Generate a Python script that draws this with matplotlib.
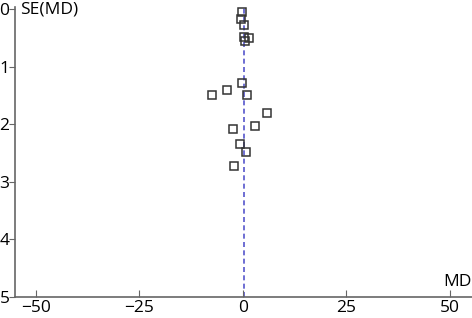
import matplotlib.pyplot as plt

# Study estimates
md = [-0.2, -0.5, 0.2, 0.3, 0.5, 1.4, -7.4, -3.8, -0.3, 1.1, 5.7, 2.9, -2.3, -0.7, 0.65, -2.1]
se = [0.05, 0.17, 0.28, 0.48, 0.55, 0.5, 1.5, 1.41, 1.29, 1.49, 1.81, 2.03, 2.08, 2.34, 2.48, 2.72]
pooled_md = 0.2

xticks = [-50, -25, 0, 25, 50]
yticks = [0, 1, 2, 3, 4, 5]

plt.rcParams['font.family'] = ['Open Sans', 'DejaVu Sans']

fig = plt.figure(figsize=(4.72, 3.18), dpi=100)
ax = fig.add_axes([0.032, 0.066, 0.968, 0.912])

ax.axvline(pooled_md, color='#5555cc', linestyle=(0, (3, 2)), linewidth=1.2, zorder=1)
ax.plot(md, se, linestyle='none', marker='s', markersize=6.3, markerfacecolor='none',
        markeredgecolor='#333333', markeredgewidth=1.1, zorder=2)

ax.set_xlim(-55, 55.3)
ax.set_ylim(5, -0.035)
ax.set_xticks(xticks)
ax.set_yticks(yticks)
ax.tick_params(axis='x', direction='in', length=5, color='#666666', labelsize=12.5, pad=2)
ax.tick_params(axis='y', direction='out', length=4, color='#666666', labelsize=12.5, pad=0)

for s in ['top', 'right']:
    ax.spines[s].set_visible(False)
for s in ['left', 'bottom']:
    ax.spines[s].set_color('#666666')
    ax.spines[s].set_linewidth(1.2)

ax.text(0.01, 0.993, 'SE(MD)', transform=ax.transAxes, fontsize=12.5, ha='left', va='center')
ax.text(1.0, 0.025, 'MD', transform=ax.transAxes, fontsize=12.5, ha='right', va='bottom')

fig.savefig('out.png', dpi=100)
